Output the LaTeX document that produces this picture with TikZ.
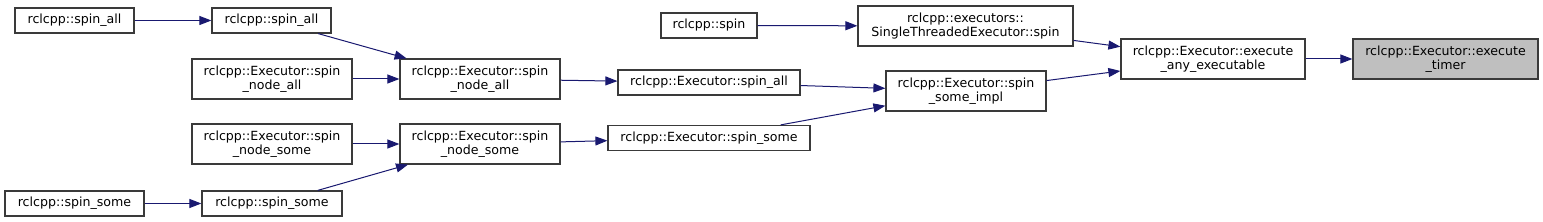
\documentclass[tikz,border=0pt]{standalone}
\usepackage{fontspec}
\setmainfont{DejaVu Sans}
\usetikzlibrary{arrows.meta}
\definecolor{edgeblue}{HTML}{191970}
\definecolor{boxborder}{HTML}{3A3A3A}
\definecolor{rootfill}{HTML}{BFBFBF}
\begin{document}
\begin{tikzpicture}[x=1pt,y=1pt,
  fn/.style={draw=boxborder, line width=1.2pt, fill=white, inner sep=0pt, align=center,
    font=\fontsize{12.6}{14.5}\selectfont, text=black},
  one/.style={minimum height=25pt},
  two/.style={minimum height=40pt},
  root/.style={fill=rootfill},
  edge/.style={draw=edgeblue, line width=1pt, -{Triangle[length=12pt,width=9pt]}}]
\useasboundingbox (0,0) rectangle (1543,222);
\node[fn, one, minimum width=119pt] (a1) at (74.5,201.5) {rclcpp::spin\_all};
\node[fn, one, minimum width=119pt] (a2) at (271.5,201.5) {rclcpp::spin\_all};
\node[fn, two, minimum width=160pt] (b) at (272,143) {rclcpp::Executor::spin\\\_node\_all};
\node[fn, two, minimum width=160pt] (c) at (272,78) {rclcpp::Executor::spin\\\_node\_some};
\node[fn, one, minimum width=139pt] (d1) at (74.5,18.5) {rclcpp::spin\_some};
\node[fn, one, minimum width=140pt] (d2) at (272,18.5) {rclcpp::spin\_some};
\node[fn, two, minimum width=160pt] (e) at (480,143) {rclcpp::Executor::spin\\\_node\_all};
\node[fn, two, minimum width=160pt] (f) at (480,78) {rclcpp::Executor::spin\\\_node\_some};
\node[fn, one, minimum width=96pt] (s) at (709,196.5) {rclcpp::spin};
\node[fn, one, minimum width=182pt] (g) at (709,139.5) {rclcpp::Executor::spin\_all};
\node[fn, one, minimum width=202pt] (h) at (709,84) {rclcpp::Executor::spin\_some};
\node[fn, two, minimum width=215pt] (i) at (965.5,196) {rclcpp::executors::\\SingleThreadedExecutor::spin};
\node[fn, two, minimum width=160pt] (j) at (966,131) {rclcpp::Executor::spin\\\_some\_impl};
\node[fn, two, minimum width=184pt] (k) at (1213,163) {rclcpp::Executor::execute\\\_any\_executable};
\node[fn, two, root, minimum width=185pt] (l) at (1445.5,163) {rclcpp::Executor::execute\\\_timer};
\draw[edge] (a1) -- (a2);
\draw[edge] (a2) -- (e);
\draw[edge] (b) -- (e);
\draw[edge] (c) -- (f);
\draw[edge] (d1) -- (d2);
\draw[edge] (d2) -- (f);
\draw[edge] (e) -- (g);
\draw[edge] (f) -- (h);
\draw[edge] (s) -- (i);
\draw[edge] (g) -- (j);
\draw[edge] (h) -- (j);
\draw[edge] (i) -- (k);
\draw[edge] (j) -- (k);
\draw[edge] (k) -- (l);
\end{tikzpicture}
\end{document}
